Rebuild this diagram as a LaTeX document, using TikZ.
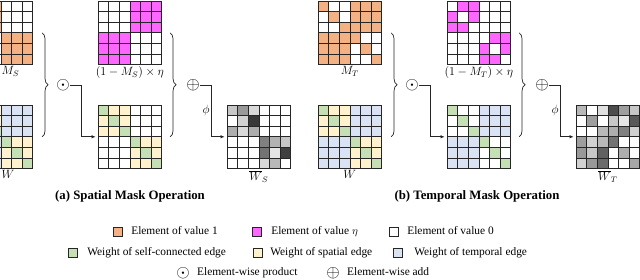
\documentclass[tikz,border=0pt]{standalone}
\usepackage{fontspec}
\setmainfont{Liberation Serif}
\usetikzlibrary{arrows.meta,positioning,decorations.pathreplacing}

\definecolor{valone}{HTML}{F4B183}
\definecolor{valeta}{HTML}{FF66FF}
\definecolor{selfw}{HTML}{C5E0B4}
\definecolor{spatw}{HTML}{FFF2CC}
\definecolor{tempw}{HTML}{DAE3F3}
\definecolor{inkline}{HTML}{262626}

\newcommand{\cellsz}{10.6}
% 6x6 matrix: name, top-left corner, rows of cell colours
\newcommand{\cellgrid}[3]{%
  \begin{scope}[shift={#2}]
    \foreach [count=\gy from 0] \cells in {#3} {
      \foreach [count=\gx from 0] \kc in \cells
        \draw[cell, fill=\kc] (\gx*\cellsz, \gy*\cellsz) rectangle ++(\cellsz, \cellsz);
    }
    \node[gridbox] (#1) at (3*\cellsz, 3*\cellsz) {};
  \end{scope}}

\begin{document}
\begin{tikzpicture}[
  x=1pt, y=-1pt,
  cell/.style={draw=inkline, line width=0.6pt},
  gridbox/.style={draw=inkline, line width=0.9pt, minimum size=63.6pt, inner sep=0pt},
  lbl/.style={font=\fontsize{11.5}{13}\selectfont, inner sep=1pt},
  op/.style={font=\fontsize{16}{18}\selectfont, inner sep=0pt},
  arrow/.style={draw=inkline, line width=0.7pt, -{Latex[length=4pt, width=3.5pt]}, shorten >=2pt},
  brc/.style={draw=inkline, line width=0.7pt, decorate, decoration={brace, amplitude=6pt}},
  swatch/.style={draw=inkline, line width=0.7pt, minimum size=9.5pt, inner sep=0pt},
  keytext/.style={font=\fontsize{11.4}{13}\selectfont, inner sep=0pt, text height=8pt, text depth=2pt},
  caption/.style={font=\bfseries\fontsize{12.8}{15}\selectfont}
]
\useasboundingbox (0,0) rectangle (640,280);
\clip (0,0) rectangle (640,280);
\coordinate (leftedge) at (0.5,0);

% (a) spatial
\cellgrid{ms}{(-31,1)}{
  {valone,valone,valone,white,white,white},
  {valone,valone,valone,white,white,white},
  {valone,valone,valone,white,white,white},
  {white,white,white,valone,valone,valone},
  {white,white,white,valone,valone,valone},
  {white,white,white,valone,valone,valone}}
\cellgrid{mse}{(98,1)}{
  {white,white,white,valeta,valeta,valeta},
  {white,white,white,valeta,valeta,valeta},
  {white,white,white,valeta,valeta,valeta},
  {valeta,valeta,valeta,white,white,white},
  {valeta,valeta,valeta,white,white,white},
  {valeta,valeta,valeta,white,white,white}}
\cellgrid{ws}{(-31,105)}{
  {selfw,spatw,spatw,tempw,tempw,tempw},
  {spatw,selfw,spatw,tempw,tempw,tempw},
  {spatw,spatw,selfw,tempw,tempw,tempw},
  {tempw,tempw,tempw,selfw,spatw,spatw},
  {tempw,tempw,tempw,spatw,selfw,spatw},
  {tempw,tempw,tempw,spatw,spatw,selfw}}
\cellgrid{mws}{(98,105)}{
  {selfw,spatw,spatw,white,white,white},
  {spatw,selfw,spatw,white,white,white},
  {spatw,spatw,selfw,white,white,white},
  {white,white,white,selfw,spatw,spatw},
  {white,white,white,spatw,selfw,spatw},
  {white,white,white,spatw,spatw,selfw}}
\cellgrid{wbs}{(227,105)}{
  {black!22,black!40,black!15,white,white,white},
  {white,black!18,black!78,white,white,white},
  {black!32,black!15,black!32,white,white,white},
  {white,white,white,black!50,black!30,black!22},
  {white,white,white,black!55,black!10,black!75},
  {white,white,white,black!15,black!28,white}}

\node[lbl, anchor=north west] at (ms.south -| leftedge) {$M_S$};
\node[lbl, below=0pt of mse] {$(1-M_S)\times\eta$};
\node[lbl, anchor=north west] at (ws.south -| leftedge) {$W$};
\node[lbl, below=0pt of wbs] {$\overline{W}_S$};

\draw[brc] ([xshift=9pt]ms.east) -- ([xshift=9pt]ws.east);
\node[op] (prod1) at (63,85) {$\odot$};
\draw[arrow] (prod1.east) -- ++(11,0) |- (mws.west);
\draw[brc] ([xshift=8pt]mse.east) -- ([xshift=8pt]mws.east);
\node[op] (add1) at (193,85) {$\oplus$};
\draw[arrow] (add1.east) -- ++(11,0) |- node[lbl, pos=0.25, left] {$\phi$} (wbs.west);

\node[caption] at (130,196) {(a) Spatial Mask Operation};

% (b) temporal
\cellgrid{mt}{(318,1)}{
  {valone,white,white,valone,valone,valone},
  {white,valone,white,valone,valone,valone},
  {white,white,valone,valone,valone,valone},
  {valone,valone,valone,valone,white,white},
  {valone,valone,valone,white,valone,white},
  {valone,valone,valone,white,white,valone}}
\cellgrid{mte}{(447,1)}{
  {white,valeta,valeta,white,white,white},
  {valeta,white,valeta,white,white,white},
  {valeta,valeta,white,white,white,white},
  {white,white,white,white,valeta,valeta},
  {white,white,white,valeta,white,valeta},
  {white,white,white,valeta,valeta,white}}
\cellgrid{wt}{(318,105)}{
  {selfw,spatw,spatw,tempw,tempw,tempw},
  {spatw,selfw,spatw,tempw,tempw,tempw},
  {spatw,spatw,selfw,tempw,tempw,tempw},
  {tempw,tempw,tempw,selfw,spatw,spatw},
  {tempw,tempw,tempw,spatw,selfw,spatw},
  {tempw,tempw,tempw,spatw,spatw,selfw}}
\cellgrid{mwt}{(447,105)}{
  {selfw,white,white,tempw,tempw,tempw},
  {white,selfw,white,tempw,tempw,tempw},
  {white,white,selfw,tempw,tempw,tempw},
  {tempw,tempw,tempw,selfw,white,white},
  {tempw,tempw,tempw,white,selfw,white},
  {tempw,tempw,tempw,white,white,selfw}}
\cellgrid{wbt}{(576,105)}{
  {black!28,white,black!12,black!70,black!38,black!22},
  {white,black!38,white,black!22,black!10,black!65},
  {white,white,black!28,black!32,black!50,black!18},
  {black!38,black!18,black!28,black!55,white,white},
  {black!40,black!22,black!62,white,black!32,white},
  {black!18,black!40,black!58,white,white,black!35}}

\node[lbl, below=0pt of mt] {$M_T$};
\node[lbl, below=0pt of mte] {$(1-M_T)\times\eta$};
\node[lbl, below=0pt of wt] {$W$};
\node[lbl, below=0pt of wbt] {$\overline{W}_T$};

\draw[brc] ([xshift=9pt]mt.east) -- ([xshift=9pt]wt.east);
\node[op] (prod2) at (412,85) {$\odot$};
\draw[arrow] (prod2.east) -- ++(11,0) |- (mwt.west);
\draw[brc] ([xshift=8pt]mte.east) -- ([xshift=8pt]mwt.east);
\node[op] (add2) at (542,85) {$\oplus$};
\draw[arrow] (add2.east) -- ++(11,0) |- node[lbl, pos=0.25, left] {$\phi$} (wbt.west);

\node[caption] at (477,196) {(b) Temporal Mask Operation};

% legend
\node[swatch, fill=valone] (k1) at (118,232) {};
\node[keytext, right=8pt of k1] {Element of value 1};
\node[swatch, fill=valeta] (k2) at (257,232) {};
\node[keytext, right=9pt of k2] {Element of value $\eta$};
\node[swatch, fill=white] (k3) at (394,232) {};
\node[keytext, right=8pt of k3] {Element of value 0};
\node[swatch, fill=selfw] (k4) at (73,253) {};
\node[keytext, right=9pt of k4] {Weight of self-connected edge};
\node[swatch, fill=spatw] (k5) at (258,253) {};
\node[keytext, right=7pt of k5] {Weight of spatial edge};
\node[swatch, fill=tempw] (k6) at (398,253) {};
\node[keytext, right=11pt of k6] {Weight of temporal edge};
\node[op] (k7) at (183,273) {$\odot$};
\node[keytext, right=7pt of k7] {Element-wise product};
\node[op] (k8) at (333,273) {$\oplus$};
\node[keytext, right=7pt of k8] {Element-wise add};
\end{tikzpicture}
\end{document}
